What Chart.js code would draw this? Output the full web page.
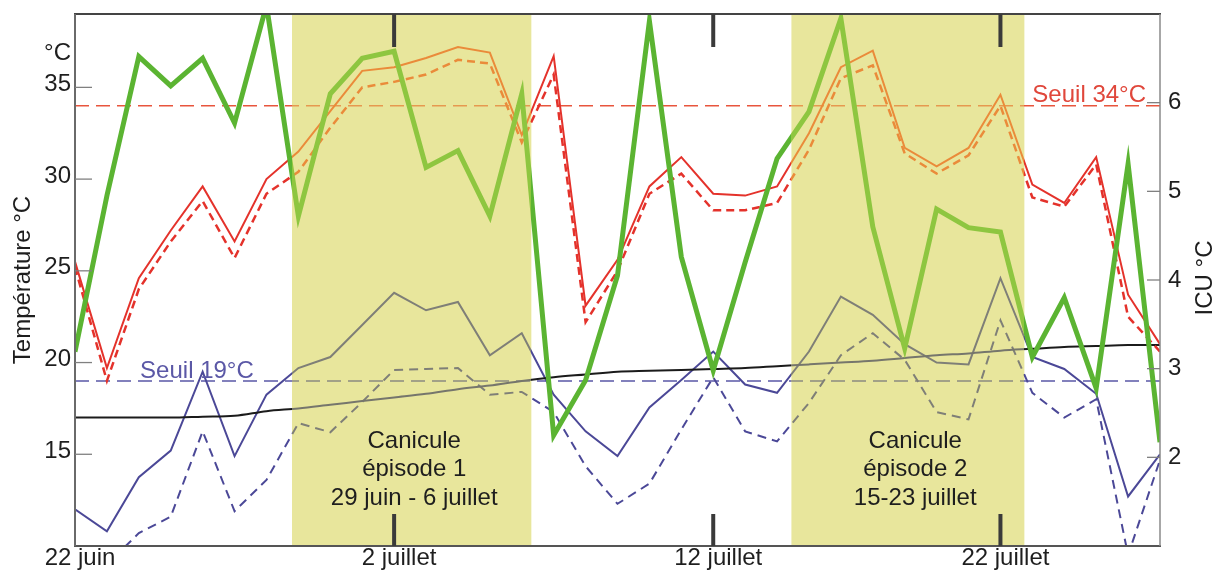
<!DOCTYPE html>
<html>
<head>
<meta charset="utf-8">
<script src="https://cdn.jsdelivr.net/npm/chart.js@4.4.1/dist/chart.umd.min.js"></script>
<style>
html,body{margin:0;padding:0;background:#fff;overflow:hidden}
canvas{display:block}
</style>
</head>
<body>
<canvas id="c" width="1213" height="571"></canvas>
<script>
// ---- data (one value per day, index 0 = 22 juin) ----
const tMaxA = [25.5,19.7,24.6,27.2,29.6,26.6,30.0,31.5,33.7,35.9,36.1,36.6,37.2,36.9,32.4,36.7,23.1,25.6,29.6,31.2,29.2,29.1,29.6,32.5,36.1,37.0,31.7,30.7,31.7,34.6,29.7,28.7,31.2,23.7,21.0];
const tMaxB = [25.2,19.0,24.0,26.6,28.8,25.7,29.2,30.4,32.8,35.0,35.3,35.7,36.5,36.3,32.0,35.7,22.2,25.0,29.2,30.3,28.3,28.3,28.7,31.6,35.5,36.2,31.4,30.3,31.3,34.0,29.0,28.5,30.8,22.5,20.6];
const tMinA = [12.0,10.8,13.75,15.2,19.5,14.9,18.25,19.7,20.3,22.05,23.8,22.85,23.3,20.4,21.6,18.25,16.25,14.9,17.55,19.05,20.6,18.8,18.35,20.6,23.6,22.6,21.0,20.0,19.9,24.6,20.3,19.65,18.3,12.7,15.0];
const tMinB = [9.8,9.0,10.7,11.6,16.25,11.9,13.6,16.7,16.2,17.85,19.6,19.65,19.7,18.25,18.4,17.3,14.35,12.3,13.4,16.35,19.2,16.25,15.7,17.8,20.4,21.6,20.15,17.3,16.9,22.3,18.35,17.0,18.0,9.5,14.7];
const trend = [17.0,17.0,17.0,17.0,17.05,17.1,17.35,17.5,17.7,17.9,18.1,18.3,18.55,18.75,19.0,19.2,19.35,19.5,19.55,19.6,19.65,19.7,19.8,19.9,20.0,20.1,20.25,20.4,20.5,20.65,20.75,20.85,20.9,20.95,20.95];
const icu = [3.19,4.95,6.52,6.19,6.5,5.77,7.1,4.72,6.1,6.5,6.58,5.27,5.46,4.72,6.1,2.25,2.87,4.05,6.92,4.26,2.98,4.2,5.37,5.9,6.95,4.6,3.23,4.8,4.59,4.54,3.13,3.8,2.78,5.31,2.17];
const seuilMax = 34;
const seuilMin = 19;
const episode1 = [6.8, 14.3];
const episode2 = [22.45, 29.75];
const xTickPositions = [0, 10, 20, 29];
const xTickLabels = ['22 juin', '2 juillet', '12 juillet', '22 juillet'];
const leftTicks = [10, 15, 20, 25, 30, 35];
const leftTickLabels = ['', '15', '20', '25', '30', '35'];
const rightTicks = [2, 3, 4, 5, 6];
const episodeTexts = [
  ['Canicule', 'épisode 1', '29 juin - 6 juillet'],
  ['Canicule', 'épisode 2', '15-23 juillet']
];

// ---- styling ----
const FONT = '"Liberation Sans", Arial, Helvetica, sans-serif';
const episodes = [episode1, episode2];
const episodeTextX = [10.63, 26.33];
const SHADE = '#e8e69c';

function bandStroke(outside, inside) {
  return function (c) {
    const chart = c.chart;
    const area = chart.chartArea;
    const xs = chart.scales.x;
    if (!area || !xs) return outside;
    const g = chart.ctx.createLinearGradient(area.left, 0, area.right, 0);
    const w = area.right - area.left;
    g.addColorStop(0, outside);
    episodes.forEach(([a, b]) => {
      const fa = Math.min(1, Math.max(0, (xs.getPixelForValue(a) - area.left) / w));
      const fb = Math.min(1, Math.max(0, (xs.getPixelForValue(b) - area.left) / w));
      g.addColorStop(fa, outside); g.addColorStop(fa, inside);
      g.addColorStop(fb, inside); g.addColorStop(fb, outside);
    });
    g.addColorStop(1, outside);
    return g;
  };
}
const pts = arr => arr.map((v, i) => ({x: i, y: v}));
const constLine = v => tMaxA.map((_, i) => ({x: i, y: v}));
const noPad = s => { s.paddingTop = 0; s.paddingBottom = 0; s.paddingLeft = 0; s.paddingRight = 0; };

const decor = {
  id: 'decor',
  beforeDatasetsDraw(chart) {
    const {ctx, chartArea: a, scales: {x}} = chart;
    ctx.save();
    ctx.fillStyle = SHADE;
    episodes.forEach(([s, e]) => {
      const x0 = x.getPixelForValue(s), x1 = x.getPixelForValue(e);
      ctx.fillRect(x0, a.top, x1 - x0, a.bottom - a.top);
    });
    ctx.restore();
  },
  afterDatasetsDraw(chart) {
    const {ctx, chartArea: a, scales: {x, y, y2}} = chart;
    ctx.save();
    // frame
    ctx.lineCap = 'butt';
    ctx.strokeStyle = '#444'; ctx.lineWidth = 2;
    ctx.beginPath(); ctx.moveTo(a.left - 1, a.top); ctx.lineTo(a.right + 1, a.top); ctx.stroke();
    ctx.strokeStyle = '#555';
    ctx.beginPath(); ctx.moveTo(a.left - 1, a.bottom); ctx.lineTo(a.right + 1, a.bottom); ctx.stroke();
    ctx.strokeStyle = '#6a6a6a';
    ctx.beginPath(); ctx.moveTo(a.left, a.top); ctx.lineTo(a.left, a.bottom); ctx.stroke();
    ctx.strokeStyle = '#8a8a8a'; ctx.lineWidth = 1.5;
    ctx.beginPath(); ctx.moveTo(a.right, a.top); ctx.lineTo(a.right, a.bottom); ctx.stroke();
    // inner y ticks
    ctx.strokeStyle = '#808080'; ctx.lineWidth = 1.3;
    y.ticks.forEach(t => {
      if (t.value === y.min) return;
      const py = y.getPixelForValue(t.value);
      ctx.beginPath(); ctx.moveTo(a.left, py); ctx.lineTo(a.left + 17, py); ctx.stroke();
    });
    y2.ticks.forEach(t => {
      const py = y2.getPixelForValue(t.value);
      ctx.beginPath(); ctx.moveTo(a.right - 13, py); ctx.lineTo(a.right, py); ctx.stroke();
    });
    // inner x marks
    ctx.strokeStyle = '#3a3a3a'; ctx.lineWidth = 4;
    xTickPositions.forEach(v => {
      if (v === x.min) return;
      const px = x.getPixelForValue(v);
      ctx.beginPath(); ctx.moveTo(px, a.top); ctx.lineTo(px, a.top + 33); ctx.stroke();
      ctx.beginPath(); ctx.moveTo(px, a.bottom); ctx.lineTo(px, a.bottom - 32); ctx.stroke();
    });
    // texts
    ctx.font = '24px ' + FONT;
    ctx.fillStyle = '#1e1e1e';
    ctx.textAlign = 'center';
    ctx.textBaseline = 'alphabetic';
    const lineY = [a.bottom - 98, a.bottom - 70, a.bottom - 41];
    episodeTexts.forEach((lines, k) => {
      const px = x.getPixelForValue(episodeTextX[k]);
      lines.forEach((s, j) => ctx.fillText(s, px, lineY[j]));
    });
    ctx.fillStyle = '#e0473b';
    ctx.textAlign = 'right';
    ctx.fillText('Seuil 34°C', a.right - 14, y.getPixelForValue(seuilMax) - 4);
    ctx.fillStyle = '#5b58a6';
    ctx.textAlign = 'left';
    ctx.fillText('Seuil 19°C', x.getPixelForValue(2.04), y.getPixelForValue(seuilMin) - 3);
    // axis titles
    ctx.fillStyle = '#1e1e1e';
    ctx.textAlign = 'right';
    ctx.fillText('°C', a.left - 4, a.top + 46);
    ctx.save();
    ctx.translate(30, (a.top + a.bottom) / 2);
    ctx.rotate(-Math.PI / 2);
    ctx.textAlign = 'center';
    ctx.fillText('Température °C', 0, 0);
    ctx.restore();
    ctx.save();
    ctx.translate(a.right + 52, (a.top + a.bottom) / 2 - 2);
    ctx.rotate(-Math.PI / 2);
    ctx.textAlign = 'center';
    ctx.fillText('ICU °C', 0, 0);
    ctx.restore();
    ctx.restore();
  }
};

const common = {pointRadius: 0, pointHoverRadius: 0, fill: false, tension: 0};

new Chart(document.getElementById('c'), {
  type: 'line',
  data: {
    datasets: [
      Object.assign({}, common, {label: 'ICU', yAxisID: 'y2', data: pts(icu), borderWidth: 5, borderJoinStyle: 'miter',
        borderColor: bandStroke('#5bb432', '#8ec640')}),
      Object.assign({}, common, {label: 'Tmax A', yAxisID: 'y', data: pts(tMaxA), borderWidth: 2,
        borderColor: bandStroke('#e4322b', '#ea8b3a')}),
      Object.assign({}, common, {label: 'Tmax B', yAxisID: 'y', data: pts(tMaxB), borderWidth: 2.5, borderDash: [8, 5],
        borderColor: bandStroke('#e4322b', '#ea8b3a')}),
      Object.assign({}, common, {label: 'Tendance', yAxisID: 'y', data: pts(trend), borderWidth: 2, cubicInterpolationMode: 'monotone',
        borderColor: bandStroke('#1b1b1b', '#76766c')}),
      Object.assign({}, common, {label: 'Tmin A', yAxisID: 'y', data: pts(tMinA), borderWidth: 2,
        borderColor: bandStroke('#4b4897', '#7f7f77')}),
      Object.assign({}, common, {label: 'Tmin B', yAxisID: 'y', data: pts(tMinB), borderWidth: 2, borderDash: [9, 6],
        borderColor: bandStroke('#4b4897', '#7f7f77')}),
      Object.assign({}, common, {label: 'Seuil 34', yAxisID: 'y', data: constLine(seuilMax), borderWidth: 1.5, borderDash: [14, 7],
        borderColor: bandStroke('#e8553d', '#e6994f')}),
      Object.assign({}, common, {label: 'Seuil 19', yAxisID: 'y', data: constLine(seuilMin), borderWidth: 1.5, borderDash: [14, 7],
        borderColor: bandStroke('#5957a6', '#8b8a80')})
    ]
  },
  options: {
    responsive: false,
    animation: false,
    devicePixelRatio: 1,
    layout: {padding: {top: 14, left: 0, right: 0, bottom: 0}},
    plugins: {legend: {display: false}, tooltip: {enabled: false}},
    scales: {
      x: {
        type: 'linear', min: 0, max: 34,
        grid: {display: false, drawTicks: false},
        border: {display: false},
        afterBuildTicks: s => { s.ticks = xTickPositions.map(v => ({value: v})); },
        afterFit: s => { s.height = 25; noPad(s); },
        ticks: {
          autoSkip: false, maxRotation: 0, padding: 0, labelOffset: 5,
          font: {family: FONT, size: 24, lineHeight: 1}, color: '#1e1e1e',
          callback: v => { const k = xTickPositions.indexOf(v); return k >= 0 ? xTickLabels[k] : ''; }
        }
      },
      y: {
        type: 'linear', position: 'left', min: 10, max: 39,
        grid: {display: false, drawTicks: false},
        border: {display: false},
        afterBuildTicks: s => { s.ticks = leftTicks.map(v => ({value: v})); },
        afterFit: s => { s.width = 75; noPad(s); },
        ticks: {
          padding: 4, labelOffset: -3, font: {family: FONT, size: 24}, color: '#1e1e1e',
          callback: v => { const k = leftTicks.indexOf(v); return k >= 0 ? leftTickLabels[k] : ''; }
        }
      },
      y2: {
        type: 'linear', position: 'right', min: 1, max: 7,
        grid: {display: false, drawTicks: false},
        border: {display: false},
        afterBuildTicks: s => { s.ticks = rightTicks.map(v => ({value: v})); },
        afterFit: s => { s.width = 53; noPad(s); },
        ticks: {padding: 8, font: {family: FONT, size: 24}, color: '#1e1e1e'}
      }
    }
  },
  plugins: [decor]
});
</script>
</body>
</html>
